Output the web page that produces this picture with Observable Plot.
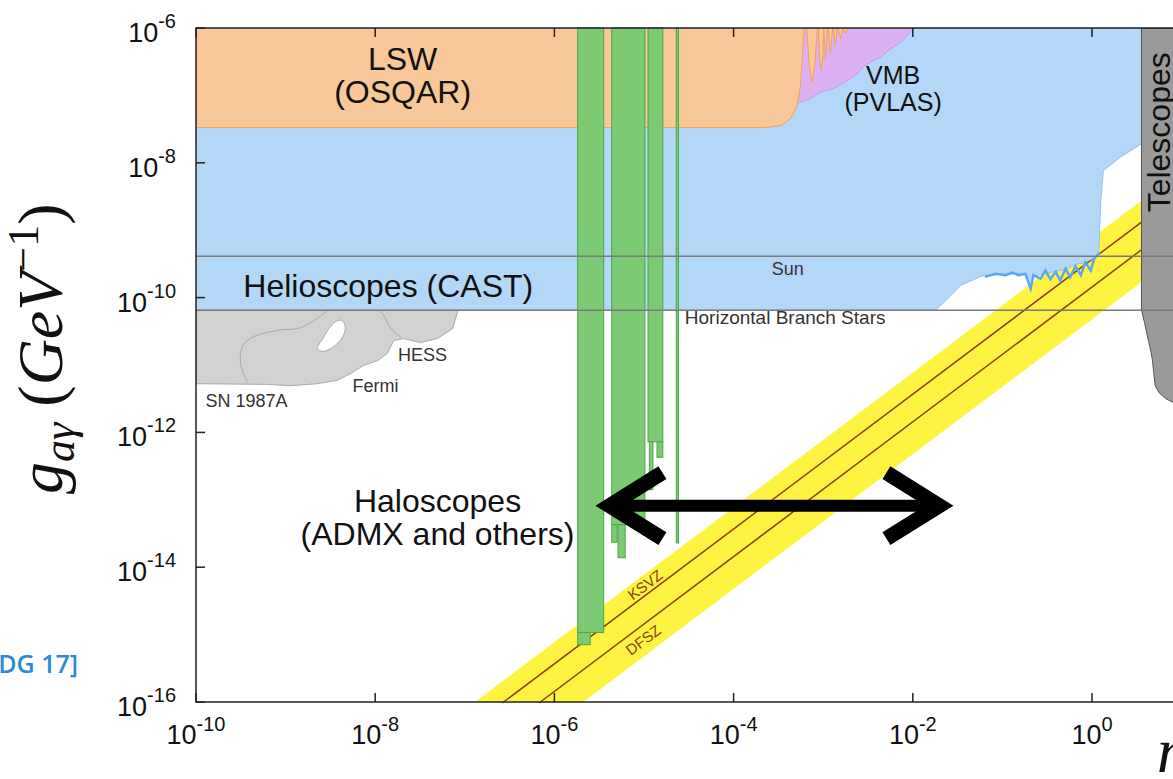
<!DOCTYPE html>
<html><head><meta charset="utf-8">
<script src="https://cdn.jsdelivr.net/npm/d3@7"></script>
<script src="https://cdn.jsdelivr.net/npm/@observablehq/plot@0.6"></script>
<style>html,body{margin:0;padding:0;background:#fff;overflow:hidden}</style>
</head><body><div id="chart"></div>
<script>
// All values: log10 of axion mass m_a [eV] and log10 of coupling g_aγ [GeV^-1]
const xTickExp = [-10, -8, -6, -4, -2, 0];
const yTickExp = [-6, -8, -10, -12, -14, -16];

// LSW (OSQAR)
const lswM = [-10,-10,-3.65,-3.48,-3.37,-3.30,-3.26,-3.24,-3.22,-3.19,-3.16,-3.13,-3.10,-3.07,-3.06,-3.045,-3.03,-3.01,-3.00,-2.98,-2.96,-2.95,-2.925,-2.90,-2.89,-2.87,-2.85,-2.84,-2.81,-2.79,-2.78,-2.76,-2.73];
const lswG = [-6,-7.47,-7.47,-7.44,-7.34,-7.16,-6.85,-6.48,-6,-6,-6.55,-6.80,-6.55,-6,-6,-6.45,-6.62,-6.45,-6,-6.48,-6,-6,-6.37,-6,-6,-6.25,-6,-6,-6.15,-6,-6,-6.07,-6];
// VMB (PVLAS)
const vmbM = [-3.37,-3.37,-3.28,-3.15,-3.04,-2.98,-2.89,-2.73,-2.62,-2.57,-2.48,-2.37,-2.25,-2.12,-2.00];
const vmbG = [-6,-7.14,-7.10,-7.04,-6.95,-6.92,-6.89,-6.77,-6.67,-6.58,-6.50,-6.43,-6.30,-6.18,-6];
// Helioscopes (CAST)
const castM = [-10,0.547,0.547,0.31,0.12,0.09,0.07,0.01,-0.08,-0.19,-0.28,-0.36,-0.47,-0.58,-0.66,-0.69,-0.73,-0.86,-1.03,-1.19,-1.25,-1.47,-1.64,-1.75,-10];
const castG = [-6,-6,-7.71,-7.91,-8.11,-8.60,-9.34,-9.41,-9.47,-9.50,-9.56,-9.59,-9.62,-9.65,-9.68,-9.86,-9.64,-9.64,-9.65,-9.66,-9.68,-9.81,-10.04,-10.18,-10.18];
const castEdgeM = [-1.19,-1.08,-0.97,-0.89,-0.83,-0.75,-0.69,-0.66,-0.58,-0.525,-0.47,-0.41,-0.36,-0.30,-0.25,-0.19,-0.13,-0.08,-0.02,0.02,0.07];
const castEdgeG = [-9.68,-9.64,-9.66,-9.62,-9.66,-9.64,-9.86,-9.66,-9.71,-9.59,-9.72,-9.61,-9.74,-9.56,-9.69,-9.53,-9.66,-9.47,-9.59,-9.41,-9.34];
// Astrophysics: SN 1987A, Fermi, HESS
const astroM = [-10,-7.08,-7.09,-7.14,-7.31,-7.50,-7.69,-7.80,-7.87,-7.98,-8.14,-8.28,-8.43,-8.65,-8.95,-9.21,-10,-10];
const astroG = [-10.18,-10.18,-10.22,-10.45,-10.60,-10.66,-10.60,-10.63,-10.82,-10.93,-11.00,-11.12,-11.22,-11.27,-11.30,-11.28,-11.27,-10.18];
const holeM = [-8.65,-8.59,-8.52,-8.45,-8.38,-8.34,-8.37,-8.48,-8.59];
const holeG = [-10.75,-10.60,-10.45,-10.35,-10.33,-10.42,-10.58,-10.73,-10.79];
const fermiEdgeM = [-9.43,-9.51,-9.48,-9.375,-9.10,-8.84,-8.65,-8.54];
const fermiEdgeG = [-11.25,-10.96,-10.70,-10.58,-10.48,-10.44,-10.30,-10.18];
const hessEdgeM = [-7.95,-7.91,-7.83,-7.72];
const hessEdgeG = [-10.18,-10.26,-10.45,-10.58];
// Telescopes
const telM = [0.547,0.904,0.904,0.815,0.74,0.70,0.68,0.67,0.65,0.61,0.58,0.547,0.547];
const telG = [-6,-6,-11.55,-11.49,-11.40,-11.30,-11.07,-10.93,-10.78,-10.55,-10.36,-10.18,-6];
// QCD axion band and models
const bandM = [-6.90,0.904,0.904,-5.69];
const bandG = [-16,-8.196,-9.406,-16];
const ksvzM = [-6.58,0.904], ksvzG = [-16,-8.516];
const dfszM = [-6.17,0.904], dfszG = [-16,-8.926];
// Haloscopes (ADMX and others)
const haloM1 = [-5.74,-5.74,-5.36,-5.36,-5.29,-4.955,-4.855,-4.94,-4.64];
const haloM2 = [-5.45,-5.60,-4.99,-5.30,-5.21,-4.79,-4.79,-4.90,-4.615];
const haloTop = [-6,-14.97,-6,-13.37,-13.37,-6,-12.14,-12.14,-6];
const haloBottom = [-14.97,-15.15,-13.37,-13.63,-13.86,-12.14,-12.37,-12.85,-13.64];
// Limits drawn as horizontal lines
const sunG = -9.38, hbG = -10.18;
// Double arrow
const arrowM = [-5.39, -1.71], arrowG = [-13.08, -13.08];
const leftHeadM = [-4.80, -5.39, -4.80], rightHeadM = [-2.30, -1.71, -2.30];
const headG = [-12.59, -13.08, -13.57];

const pts = (ms, gs) => ms.map((m, i) => ({m: 10 ** m, g: 10 ** gs[i]}));
const halo = haloM1.map((v, i) => ({x1: 10 ** v, x2: 10 ** haloM2[i], y1: 10 ** haloTop[i], y2: 10 ** haloBottom[i]}));

const SANS = "'Liberation Sans', Arial, Helvetica, sans-serif";
const SERIF = "'Liberation Serif', 'DejaVu Serif', serif";
const label = (t, m, g, o = {}) => Plot.text([t], {x: 10 ** m, y: 10 ** g, text: d => d, fontFamily: SANS, fill: "#111", lineAnchor: "bottom", fontSize: 18, ...o});

function axes(index, scales, values, dim) {
  const x = scales.x, y = scales.y;
  const L = dim.marginLeft, R = dim.width - dim.marginRight, T = dim.marginTop, B = dim.height - dim.marginBottom;
  const g = d3.create("svg:g");
  const fr = g.append("g").attr("fill", "none").attr("stroke", "#222").attr("stroke-width", 1.5);
  fr.append("path").attr("d", `M${R},${T}H${L}V${B}H${R}`);
  for (const e of xTickExp) { const px = x(10 ** e); fr.append("path").attr("d", `M${px},${B}v-9M${px},${T}v9`); }
  for (const e of yTickExp) { const py = y(10 ** e); fr.append("path").attr("d", `M${L},${py}h9`); }
  const lab = g.append("g").attr("fill", "#111").attr("font-family", SANS);
  for (const e of xTickExp) {
    const t = lab.append("text").attr("x", x(10 ** e)).attr("y", B + 42).attr("text-anchor", "middle").attr("font-size", 27);
    t.append("tspan").text("10");
    t.append("tspan").attr("dy", -13).attr("font-size", 20).text(e === 0 ? "0" : "-" + (-e));
  }
  for (const e of yTickExp) {
    const t = lab.append("text").attr("x", L - 20).attr("y", y(10 ** e) + 14).attr("text-anchor", "end").attr("font-size", 27);
    t.append("tspan").text("10");
    t.append("tspan").attr("dy", -14).attr("font-size", 20).text("-" + (-e));
  }
  // y axis title
  const yl = g.append("text").attr("transform", `translate(62,494) rotate(-90)`).attr("text-anchor", "start")
    .attr("font-family", SERIF).attr("font-size", 64).attr("fill", "#111");
  yl.append("tspan").attr("font-style", "italic").text("g");
  yl.append("tspan").attr("font-style", "italic").attr("font-size", 44).attr("dy", 12).text("aγ");
  yl.append("tspan").attr("dy", -12).text(" (");
  yl.append("tspan").attr("font-style", "italic").text("GeV");
  yl.append("tspan").attr("font-size", 44).attr("dy", -24).text("−1");
  yl.append("tspan").attr("dy", 24).text(")");
  // x axis title (cut at right edge)
  const xl = g.append("text").attr("x", 1157).attr("y", 772).attr("text-anchor", "start")
    .attr("font-family", SERIF).attr("font-size", 64).attr("fill", "#111");
  xl.append("tspan").attr("font-style", "italic").text("m");
  xl.append("tspan").attr("font-style", "italic").attr("font-size", 44).attr("dy", 10).text("a");
  xl.append("tspan").attr("dy", -10).text(" (eV)");
  // source
  g.append("text").attr("x", 78).attr("y", 673).attr("text-anchor", "end").attr("font-family", "'Open Sans', Lato, sans-serif")
    .attr("font-weight", 600).attr("font-size", 25).attr("fill", "#2a8ad2").text("[PDG 17]");
  return g.node();
}

const brown = "#8a3f12";
const plot = Plot.plot({
  width: 1173, height: 779,
  marginLeft: 196, marginRight: 0, marginTop: 28, marginBottom: 77,
  x: {type: "log", domain: [1e-10, 10 ** 0.904], axis: null},
  y: {type: "log", domain: [1e-16, 1e-6], axis: null},
  style: {background: "#fff", fontFamily: SANS, overflow: "visible"},
  marks: [
    Plot.line(pts(bandM, bandG), {x: "m", y: "g", fill: "#fff342", stroke: "none"}),
    Plot.line(pts(ksvzM, ksvzG), {x: "m", y: "g", stroke: brown, strokeWidth: 1.5}),
    Plot.line(pts(dfszM, dfszG), {x: "m", y: "g", stroke: brown, strokeWidth: 1.5}),
    Plot.line(pts(castM, castG), {x: "m", y: "g", fill: "#b3d7f7", stroke: "#8fc3f2", strokeWidth: 1}),
    Plot.line(pts(castEdgeM, castEdgeG), {x: "m", y: "g", stroke: "#5aa9ee", strokeWidth: 2.5, strokeLinejoin: "miter", strokeMiterlimit: 4}),
    Plot.line(pts(vmbM, vmbG), {x: "m", y: "g", fill: "#ddb1f1", stroke: "#cf98e6", strokeWidth: 1}),
    Plot.line(pts(lswM, lswG), {x: "m", y: "g", fill: "#f8c898", stroke: "#f2a257", strokeWidth: 1, curve: "linear"}),
    Plot.line(pts(astroM, astroG), {x: "m", y: "g", fill: "#d2d2d2", stroke: "#a9a9a9", strokeWidth: 1}),
    Plot.line(pts(holeM, holeG), {x: "m", y: "g", fill: "#fff", stroke: "#a9a9a9", strokeWidth: 1, curve: "catmull-rom-closed"}),
    Plot.line(pts(fermiEdgeM, fermiEdgeG), {x: "m", y: "g", stroke: "#a9a9a9", strokeWidth: 1, curve: "catmull-rom"}),
    Plot.line(pts(hessEdgeM, hessEdgeG), {x: "m", y: "g", stroke: "#a9a9a9", strokeWidth: 1, curve: "catmull-rom"}),
    Plot.rect(halo, {x1: "x1", x2: "x2", y1: "y1", y2: "y2", fill: "#7cca74", stroke: "#4ea648", strokeWidth: 1}),
    Plot.line(pts(telM, telG), {x: "m", y: "g", fill: "#9a9a9a", stroke: "#555", strokeWidth: 1}),
    Plot.ruleY([10 ** sunG, 10 ** hbG], {stroke: "#7a7a7a", strokeWidth: 1.5}),
    axes,
    Plot.line(pts(arrowM, arrowG), {x: "m", y: "g", stroke: "#000", strokeWidth: 12, strokeLinecap: "butt"}),
    Plot.line(pts(leftHeadM, headG), {x: "m", y: "g", stroke: "#000", strokeWidth: 15, strokeLinecap: "butt", strokeLinejoin: "miter", strokeMiterlimit: 10}),
    Plot.line(pts(rightHeadM, headG), {x: "m", y: "g", stroke: "#000", strokeWidth: 15, strokeLinecap: "butt", strokeLinejoin: "miter", strokeMiterlimit: 10}),
    label("LSW\n(OSQAR)", -7.70, -7.11, {fontSize: 32, lineHeight: 1.03}),
    label("VMB\n(PVLAS)", -2.225, -7.22, {fontSize: 25, lineHeight: 1.08}),
    label("Helioscopes (CAST)", -7.86, -9.99, {fontSize: 32}),
    label("Haloscopes\n(ADMX and others)", -7.31, -13.66, {fontSize: 32, lineHeight: 1.03}),
    label("Sun", -3.40, -9.65, {fontSize: 18, fill: "#333"}),
    label("Horizontal Branch Stars", -4.55, -10.39, {fontSize: 19, textAnchor: "start", fill: "#333"}),
    label("HESS", -7.75, -10.93, {fontSize: 18, textAnchor: "start", fill: "#333"}),
    label("Fermi", -8.26, -11.40, {fontSize: 18, textAnchor: "start", fill: "#333"}),
    label("SN 1987A", -9.90, -11.62, {fontSize: 18, textAnchor: "start", fill: "#333"}),
    label("Telescopes", 0.87, -7.54, {fontSize: 32, rotate: -90}),
    label("KSVZ", -4.99, -14.26, {fontSize: 15, rotate: -37, lineAnchor: "middle", fill: brown}),
    label("DFSZ", -5.01, -15.08, {fontSize: 15, rotate: -37, lineAnchor: "middle", fill: brown})
  ]
});
document.getElementById("chart").appendChild(plot);
</script>
</body></html>
